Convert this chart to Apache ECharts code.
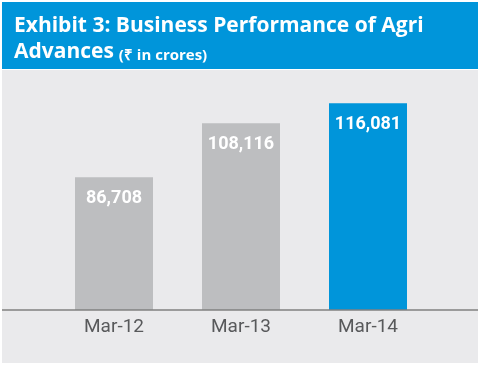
<!DOCTYPE html>
<html><head><meta charset="utf-8">
<script src="https://cdn.jsdelivr.net/npm/echarts@6/dist/echarts.min.js"></script>
<style>html,body{margin:0;padding:0;background:#fff}#c{width:480px;height:366px}</style>
</head><body><div id="c"></div>
<script>
const categories = ['Mar-12', 'Mar-13', 'Mar-14'];
const values = [86708, 108116, 116081];
const barColors = ['#bdbec0', '#bdbec0', '#0095da'];

const chart = echarts.init(document.getElementById('c'));
chart.setOption({
  animation: false,
  backgroundColor: '#ffffff',
  graphic: [
    { type: 'rect', shape: { x: 2, y: 2, width: 476, height: 67 }, style: { fill: '#0095da' }, z: -10 },
    { type: 'rect', shape: { x: 2, y: 70, width: 476, height: 293 }, style: { fill: '#eaeaec' }, z: -10 },
    { type: 'line', shape: { x1: 2, y1: 310, x2: 478, y2: 310 }, style: { stroke: '#808080', lineWidth: 1.5 }, z: 10 }
  ],
  title: {
    left: 9, top: 6,
    text: '{a|Exhibit 3: Business Performance of Agri}\n{a|Advances} {b|(₹ in crores)}',
    textStyle: {
      rich: {
        a: { color: '#fff', fontSize: 21, fontWeight: 'bold', fontFamily: 'Open Sans', lineHeight: 26, verticalAlign: 'bottom' },
        b: { color: '#fff', fontSize: 15, fontWeight: 'bold', fontFamily: 'Open Sans', lineHeight: 22, verticalAlign: 'bottom' }
      }
    }
  },
  grid: { left: 50.5, right: 48.5, top: 80, bottom: 56 },
  xAxis: {
    type: 'category',
    data: categories,
    axisLine: { show: false },
    axisTick: { show: false },
    axisLabel: { color: '#58595b', fontSize: 19, fontFamily: 'Roboto', margin: 8 }
  },
  yAxis: {
    type: 'value', min: 34000, max: 125300,
    show: false, splitLine: { show: false }
  },
  series: [{
    type: 'bar',
    barWidth: 78,
    data: values.map((v, i) => ({ value: v, itemStyle: { color: barColors[i] } })),
    label: {
      show: true, position: 'insideTop', distance: 12,
      color: '#fff', fontSize: 18, fontWeight: 'bold', fontFamily: 'Roboto',
      formatter: p => p.value.toLocaleString('en-US')
    }
  }]
});
</script></body></html>
